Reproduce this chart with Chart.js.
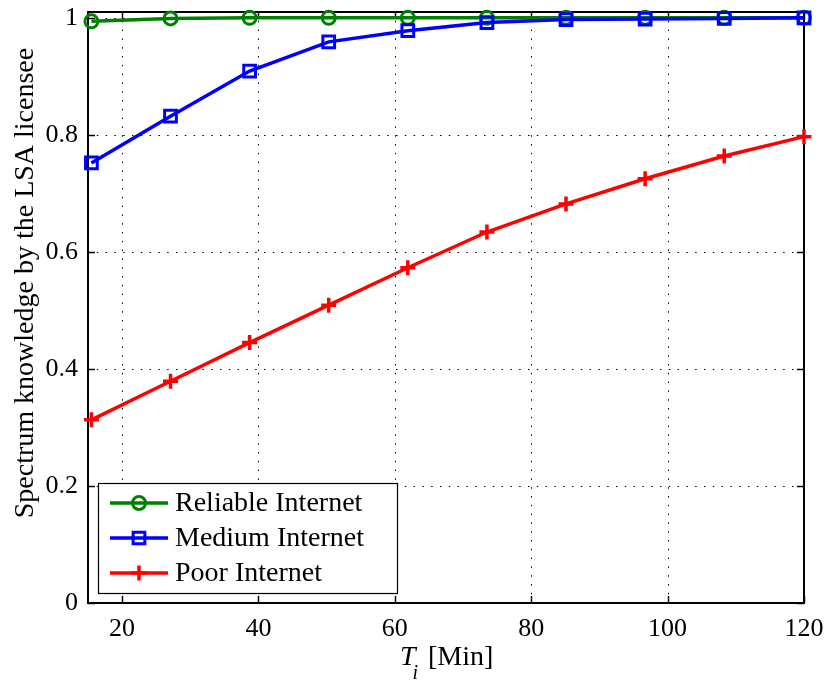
<!DOCTYPE html>
<html>
<head>
<meta charset="utf-8">
<script src="https://cdn.jsdelivr.net/npm/chart.js@4.4.1/dist/chart.umd.min.js"></script>
<style>
    html, body { margin: 0; padding: 0; background: #fff; }
    #graficoLineas { display: block; }
</style>
</head>
<body>
<canvas id="graficoLineas" width="829" height="682"></canvas>
<script>
// Tiempos T_i en minutos (eje X)
const tiempos = [15.5, 27.1, 38.7, 50.3, 61.9, 73.5, 85.1, 96.7, 108.3, 120];

// Conocimiento del espectro para cada tipo de conexión
const internetFiable = [0.994, 0.999, 1.0, 1.0, 1.0, 1.0, 1.0, 1.0, 1.0, 1.0];
const internetMedio = [0.752, 0.832, 0.909, 0.959, 0.978, 0.992, 0.997, 0.998, 0.999, 1.0];
const internetPobre = [0.313, 0.379, 0.445, 0.509, 0.573, 0.634, 0.682, 0.725, 0.764, 0.797];

const nombresSeries = ['Reliable Internet', 'Medium Internet', 'Poor Internet'];

// Marcas de los ejes
const ticksX = [20, 40, 60, 80, 100, 120];
const ticksY = [0, 0.2, 0.4, 0.6, 0.8, 1];

const FUENTE = '"Liberation Serif", "Times New Roman", serif';

document.addEventListener('DOMContentLoaded', () => {
    inicializarGrafico();
});

function puntos(valores) {
    return tiempos.map((t, i) => ({ x: t, y: valores[i] }));
}

function linea(ctx, x1, y1, x2, y2) {
    ctx.beginPath();
    ctx.moveTo(x1, y1);
    ctx.lineTo(x2, y2);
    ctx.stroke();
}

// Rejilla punteada, marcas hacia dentro y marco del área (estilo MATLAB)
const ejesMatlab = {
    id: 'ejesMatlab',
    beforeDatasetsDraw(chart) {
        const { ctx, chartArea: a, scales: { x, y } } = chart;
        ctx.save();
        ctx.strokeStyle = '#000';
        ctx.lineWidth = 1;
        ctx.setLineDash([1.5, 7.3]);
        ticksX.forEach(v => {
            const px = Math.round(x.getPixelForValue(v)) + 0.5;
            linea(ctx, px, a.top, px, a.bottom);
        });
        ticksY.forEach(v => {
            const py = Math.round(y.getPixelForValue(v)) + 0.5;
            linea(ctx, a.left, py, a.right, py);
        });
        ctx.setLineDash([]);

        // marcas en los cuatro lados
        const largo = 7;
        ctx.lineWidth = 1.5;
        ticksX.forEach(v => {
            const px = Math.round(x.getPixelForValue(v)) + 0.5;
            linea(ctx, px, a.bottom, px, a.bottom - largo);
            linea(ctx, px, a.top, px, a.top + largo);
        });
        ticksY.forEach(v => {
            const py = Math.round(y.getPixelForValue(v)) + 0.5;
            linea(ctx, a.left, py, a.left + largo, py);
            linea(ctx, a.right, py, a.right - largo, py);
        });

        ctx.lineWidth = 2;
        ctx.strokeRect(a.left, a.top, a.right - a.left, a.bottom - a.top);
        ctx.restore();
    }
};

// Leyenda con línea y marcador, dentro del área
const leyendaMatlab = {
    id: 'leyendaMatlab',
    afterDatasetsDraw(chart) {
        const ctx = chart.ctx;
        const caja = { x: 98.5, y: 483.5, w: 299, h: 110 };
        ctx.save();
        ctx.fillStyle = '#fff';
        ctx.fillRect(caja.x, caja.y, caja.w, caja.h);
        ctx.strokeStyle = '#000';
        ctx.lineWidth = 1.2;
        ctx.strokeRect(caja.x, caja.y, caja.w, caja.h);

        chart.data.datasets.forEach((ds, i) => {
            const yFila = 503 + i * 35;
            ctx.strokeStyle = ds.borderColor;
            ctx.lineWidth = ds.borderWidth;
            linea(ctx, 110, yFila, 168, yFila);
            ctx.fillStyle = 'rgba(0,0,0,0)';
            ctx.lineWidth = ds.pointBorderWidth;
            Chart.helpers.drawPoint(ctx, {
                pointStyle: ds.pointStyle,
                radius: ds.pointRadius,
                borderWidth: ds.pointBorderWidth,
                rotation: 0
            }, 139, yFila);
            ctx.fillStyle = '#000';
            ctx.font = '28px ' + FUENTE;
            ctx.textBaseline = 'middle';
            ctx.textAlign = 'left';
            ctx.fillText(ds.label, 175, yFila + 1);
        });
        ctx.restore();
    }
};

// Títulos de los ejes (T_i con subíndice en cursiva)
const titulosEjes = {
    id: 'titulosEjes',
    afterDraw(chart) {
        const { ctx, chartArea: a } = chart;
        ctx.save();
        ctx.fillStyle = '#000';
        ctx.textBaseline = 'alphabetic';

        // eje Y
        ctx.save();
        ctx.translate(33, 283);
        ctx.rotate(-Math.PI / 2);
        ctx.textAlign = 'center';
        ctx.font = '28px ' + FUENTE;
        ctx.fillText('Spectrum knowledge by the LSA licensee', 0, 0);
        ctx.restore();

        // eje X
        const centro = (a.left + a.right) / 2;
        let xt = centro - 46;
        ctx.textAlign = 'left';
        ctx.font = 'italic 28px ' + FUENTE;
        ctx.fillText('T', xt, 665);
        xt += ctx.measureText('T').width - 3;
        ctx.font = 'italic 20px ' + FUENTE;
        ctx.fillText('i', xt, 679);
        ctx.font = '28px ' + FUENTE;
        ctx.fillText('[Min]', centro - 18, 665);
        ctx.restore();
    }
};

function inicializarGrafico() {
    const ctx = document.getElementById('graficoLineas').getContext('2d');
    const fuenteTicks = { family: FUENTE, size: 26, lineHeight: 1 };

    new Chart(ctx, {
        type: 'line',
        data: {
            datasets: [{
                    label: nombresSeries[0],
                    data: puntos(internetFiable),
                    borderColor: '#008000',
                    borderWidth: 3.5,
                    pointStyle: 'circle',
                    pointRadius: 6.5,
                    pointBorderWidth: 3,
                    pointBackgroundColor: 'rgba(0,0,0,0)',
                    pointBorderColor: '#008000',
                    tension: 0,
                    clip: false,
                    order: 3
                },
                {
                    label: nombresSeries[1],
                    data: puntos(internetMedio),
                    borderColor: '#0000ff',
                    borderWidth: 3.5,
                    pointStyle: 'rect',
                    pointRadius: 8.3,
                    pointBorderWidth: 3,
                    pointBackgroundColor: 'rgba(0,0,0,0)',
                    pointBorderColor: '#0000ff',
                    tension: 0,
                    clip: false,
                    order: 2
                },
                {
                    label: nombresSeries[2],
                    data: puntos(internetPobre),
                    borderColor: '#ff0000',
                    borderWidth: 3.5,
                    pointStyle: 'cross',
                    pointRadius: 7.5,
                    pointBorderWidth: 3.5,
                    pointBackgroundColor: 'rgba(0,0,0,0)',
                    pointBorderColor: '#ff0000',
                    tension: 0,
                    clip: false,
                    order: 1
                }
            ]
        },
        options: {
            responsive: false,
            animation: false,
            events: [],
            layout: { padding: { top: 12, right: 25, left: 0, bottom: 0 } },
            plugins: {
                legend: { display: false },
                tooltip: { enabled: false }
            },
            scales: {
                x: {
                    type: 'linear',
                    min: 15,
                    max: 120,
                    afterBuildTicks: escala => { escala.ticks = ticksX.map(v => ({ value: v })); },
                    afterFit: escala => {
                        escala.height = 79;
                        escala.paddingLeft = 0;
                        escala.paddingRight = 0;
                    },
                    grid: { display: false, drawTicks: false },
                    border: { display: false },
                    ticks: {
                        color: '#000',
                        font: fuenteTicks,
                        padding: 13,
                        maxRotation: 0,
                        autoSkip: false,
                        callback: v => String(v)
                    }
                },
                y: {
                    type: 'linear',
                    min: 0,
                    max: 1.01,
                    afterBuildTicks: escala => { escala.ticks = ticksY.map(v => ({ value: v })); },
                    afterFit: escala => {
                        escala.width = 88;
                        escala.paddingTop = 0;
                        escala.paddingBottom = 0;
                    },
                    grid: { display: false, drawTicks: false },
                    border: { display: false },
                    ticks: {
                        color: '#000',
                        font: fuenteTicks,
                        padding: 10,
                        autoSkip: false,
                        callback: v => String(v)
                    }
                }
            }
        },
        plugins: [ejesMatlab, leyendaMatlab, titulosEjes]
    });
}
</script>
</body>
</html>
